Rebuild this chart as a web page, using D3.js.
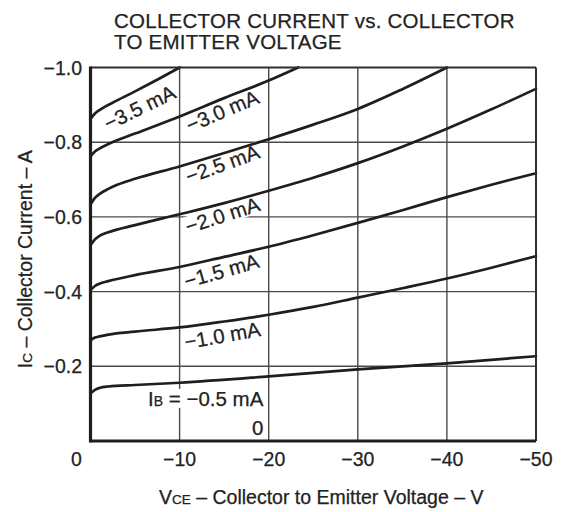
<!DOCTYPE html>
<html><head><meta charset="utf-8">
<script src="https://cdn.jsdelivr.net/npm/d3@7"></script>
<style>
body{margin:0;background:#fff}
svg{display:block}
text{font-family:"Liberation Sans",Arial,Helvetica,sans-serif;fill:#222;stroke:#222;stroke-width:0.25px}
</style>
</head><body>
<svg id="c" width="568" height="512"></svg>
<script>
// ---------- data ----------
const xTicks = [0, -10, -20, -30, -40, -50];
const xTickLabels = ["0", "−10", "−20", "−30", "−40", "−50"];
const yTicks = [-0.2, -0.4, -0.6, -0.8, -1.0];
const yTickLabels = ["−0.2", "−0.4", "−0.6", "−0.8", "−1.0"];

const ibNames = ["−3.5 mA", "−3.0 mA", "−2.5 mA", "−2.0 mA", "−1.5 mA", "−1.0 mA", "−0.5 mA", "0"];

// [VCE (V), IC (A)]
const ib35 = [[0,-0.862],[-0.5,-0.877],[-1,-0.886],[-3,-0.912],[-5,-0.936],[-7,-0.961],[-10,-1.0]];
const ib30 = [[0,-0.762],[-0.5,-0.775],[-1,-0.783],[-2,-0.795],[-5,-0.823],[-10,-0.869],[-15,-0.918],[-20,-0.965],[-23.3,-1.0]];
const ib25 = [[0,-0.633],[-0.5,-0.651],[-1,-0.661],[-2,-0.675],[-3,-0.686],[-5,-0.702],[-10,-0.735],[-15,-0.771],[-20,-0.808],[-25,-0.847],[-30,-0.889],[-35,-0.942],[-40,-1.0]];
const ib20 = [[0,-0.524],[-0.5,-0.540],[-1,-0.549],[-2,-0.559],[-5,-0.578],[-10,-0.607],[-15,-0.637],[-20,-0.670],[-25,-0.705],[-30,-0.744],[-35,-0.788],[-40,-0.836],[-45,-0.888],[-50,-0.943]];
const ib15 = [[0,-0.404],[-0.5,-0.415],[-1,-0.421],[-2,-0.428],[-5,-0.444],[-10,-0.466],[-15,-0.493],[-20,-0.520],[-25,-0.551],[-30,-0.584],[-35,-0.618],[-40,-0.653],[-45,-0.686],[-50,-0.717]];
const ib10 = [[0,-0.270],[-0.5,-0.277],[-1,-0.280],[-2,-0.285],[-5,-0.293],[-10,-0.304],[-15,-0.320],[-20,-0.338],[-25,-0.359],[-30,-0.384],[-35,-0.409],[-40,-0.435],[-45,-0.464],[-50,-0.495]];
const ib05 = [[0,-0.127],[-0.5,-0.137],[-1,-0.142],[-2,-0.146],[-5,-0.150],[-10,-0.156],[-20,-0.173],[-30,-0.192],[-40,-0.208],[-50,-0.227]];
const ib00 = [[0,0],[-50,0]];
const curves = [ib35, ib30, ib25, ib20, ib15, ib10, ib05];

// ---------- layout ----------
const L = 90.5, R = 536, T = 67.5, B = 441;
const svg = d3.select("#c");
const x = d3.scaleLinear().domain([0, -50]).range([L, R]);
const y = d3.scaleLinear().domain([0, -1.0]).range([B, T]);

// label anchors in data coordinates [V, I, angle, anchor]
const labelPos = [
  [-5.5, -0.893, -26, "middle"],
  [-14.8, -0.884, -23, "middle"],
  [-14.8, -0.742, -20, "middle"],
  [-14.8, -0.605, -18, "middle"],
  [-14.7, -0.456, -16, "middle"],
  [-14.8, -0.283, -10, "middle"],
  [-19.4, -0.094, 0, "end"],
  [-19.4, -0.016, 0, "end"]
];

// title
const title = svg.append("text").attr("font-size", 20.5).attr("letter-spacing", 0.25);
title.append("tspan").attr("x", 114).attr("y", 27.5).text("COLLECTOR CURRENT vs. COLLECTOR");
title.append("tspan").attr("x", 114).attr("y", 48.5).text("TO EMITTER VOLTAGE");

// grid
const grid = svg.append("g").attr("stroke", "#4a4a4a").attr("stroke-width", 1.4).attr("fill", "none");
grid.selectAll(".vx").data(xTicks.filter(d => d !== 0 && d !== -50)).join("line")
  .attr("x1", d => x(d)).attr("x2", d => x(d)).attr("y1", T).attr("y2", B);
grid.selectAll(".hy").data(yTicks.filter(d => d !== -1.0)).join("line")
  .attr("x1", L).attr("x2", R).attr("y1", d => y(d)).attr("y2", d => y(d));

// curves
const line = d3.line().x(d => x(d[0])).y(d => y(d[1])).curve(d3.curveMonotoneX);
const curveG = svg.append("g");

// labels (white background behind text, drawn over grid)
const labG = svg.append("g");
const labels = labG.selectAll("g").data(ibNames.map((n, i) => ({n, p: labelPos[i], i}))).join("g")
  .attr("transform", d => `translate(${x(d.p[0])},${y(d.p[1])}) rotate(${d.p[2]})`);
labels.each(function(d) {
  const g = d3.select(this);
  const t = g.append("text").attr("font-size", 20.5).attr("text-anchor", d.p[3])
    .attr("dy", d.p[3] === "end" ? 0 : "0.36em");
  if (d.i === 6) {
    t.append("tspan").text("I");
    t.append("tspan").attr("font-size", 14).text("B");
    t.append("tspan").text(" = " + d.n);
  } else {
    t.text(d.n);
  }
  const bb = t.node().getBBox();
  g.insert("rect", "text").attr("x", bb.x - 1).attr("y", bb.y + 2).attr("width", bb.width + 2)
    .attr("height", bb.height - 4).attr("fill", "#fff");
});

curveG.raise();
curveG.selectAll("path").data(curves).join("path")
  .attr("d", line).attr("fill", "none").attr("stroke", "#1e1e1e").attr("stroke-width", 2.7)
  .attr("stroke-linecap", "round");
labG.raise();
labG.selectAll("rect").remove();
// keep backgrounds below curves: re-add them into a layer under curves
labels.each(function(d) {
  const g = d3.select(this);
  const bb = g.select("text").node().getBBox();
  svg.insert("rect", () => curveG.node())
    .attr("x", bb.x - 1).attr("y", bb.y + 2).attr("width", bb.width + 2).attr("height", bb.height - 4)
    .attr("transform", g.attr("transform")).attr("fill", "#fff");
});

// borders
const bord = svg.append("g").attr("fill", "none");
bord.append("line").attr("x1", L).attr("x2", R).attr("y1", T).attr("y2", T).attr("stroke", "#2e2e2e").attr("stroke-width", 2);
bord.append("line").attr("x1", R).attr("x2", R).attr("y1", T).attr("y2", B).attr("stroke", "#2e2e2e").attr("stroke-width", 2);
bord.append("path").datum(ib00).attr("d", d3.line().x(d => x(d[0])).y(d => y(d[1])))
  .attr("stroke", "#1e1e1e").attr("stroke-width", 3.2);
bord.append("line").attr("x1", L).attr("x2", L).attr("y1", T - 1).attr("y2", B + 1.5).attr("stroke", "#1e1e1e").attr("stroke-width", 3.2);

// axes tick labels
svg.append("g").selectAll("text").data(xTicks).join("text")
  .attr("x", d => x(d) + (d === 0 ? -14 : 0)).attr("y", 466)
  .attr("text-anchor", "middle").attr("font-size", 19.5).text((d, i) => xTickLabels[i]);
svg.append("g").selectAll("text").data(yTicks).join("text")
  .attr("x", 82).attr("y", d => y(d)).attr("dy", "0.36em")
  .attr("text-anchor", "end").attr("font-size", 19.5).text((d, i) => yTickLabels[i]);

// axis titles
const xt = svg.append("text").attr("x", (L + R) / 2 + 8).attr("y", 504).attr("text-anchor", "middle").attr("font-size", 19.5);
xt.append("tspan").text("V");
xt.append("tspan").attr("font-size", 13.5).text("CE");
xt.append("tspan").text(" – Collector to Emitter Voltage – V");

const yt = svg.append("text").attr("transform", `translate(32,${(T + B) / 2 + 5}) rotate(-90)`)
  .attr("text-anchor", "middle").attr("font-size", 19.5);
yt.append("tspan").text("I");
yt.append("tspan").attr("font-size", 13.5).text("C");
yt.append("tspan").text(" – Collector Current – A");
</script>
</body></html>
